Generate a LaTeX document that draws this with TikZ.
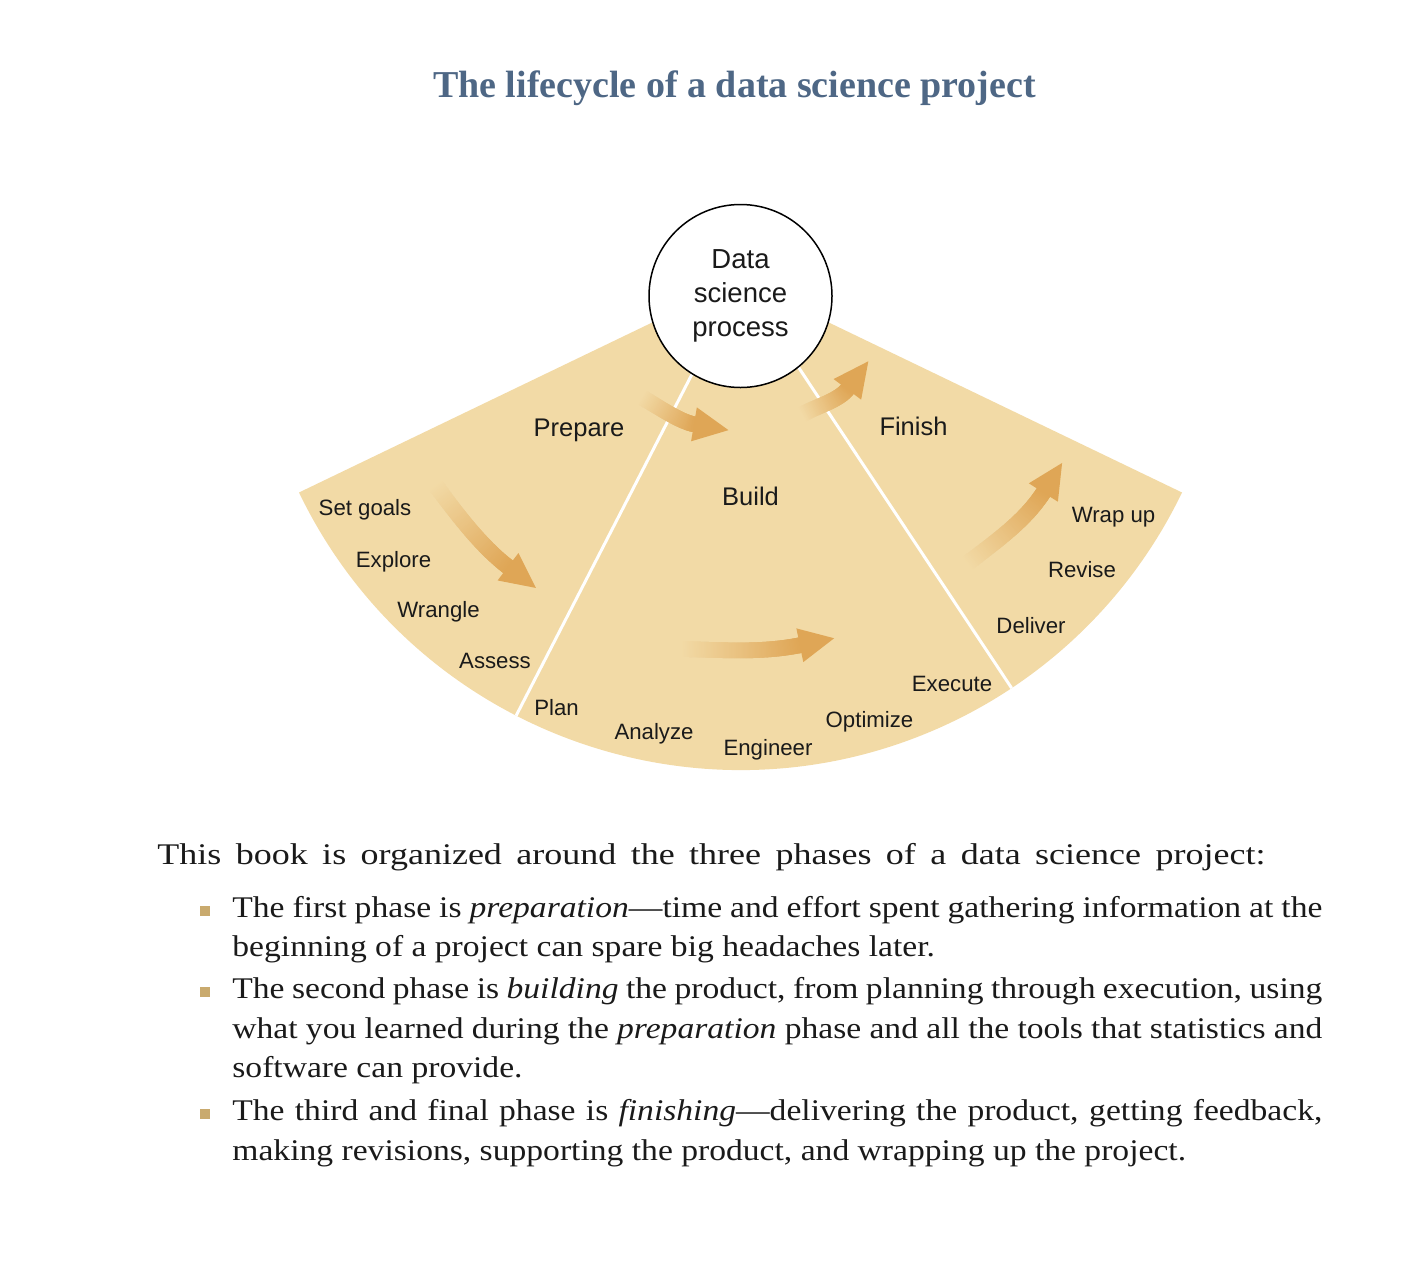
\documentclass[tikz,border=0pt]{standalone}
\usepackage{fontspec}
\setmainfont{Liberation Serif}
\setsansfont{Liberation Sans}
\newfontfamily\bookfont{Liberation Serif}[FakeStretch=1.12]
\newfontfamily\leadfont{Liberation Serif}[FakeStretch=1.2]
\usetikzlibrary{decorations.markings}

\definecolor{fantan}{RGB}{242,218,166}
\definecolor{arrowtan}{RGB}{223,166,86}
\definecolor{titleblue}{RGB}{78,103,133}
\definecolor{bulletgold}{RGB}{201,170,110}
\definecolor{inkgrey}{RGB}{26,26,26}

\tikzset{
  phase/.style={font=\sffamily\fontsize{12.75pt}{15pt}\selectfont, text=inkgrey, anchor=base, inner sep=0pt},
  stage/.style={font=\sffamily\fontsize{11.1pt}{13pt}\selectfont, text=inkgrey, anchor=base, inner sep=0pt},
  divider/.style={draw=white, line width=1.5pt},
  flowarrow/.style={postaction={decorate}, decoration={markings,
      mark=between positions 0 and 1 step 0.6pt with {
        \pgfmathtruncatemacro\shadepc{min(100,100*\pgfkeysvalueof{/pgf/decoration/mark info/distance from start}/\pgfdecoratedpathlength)}
        \fill[arrowtan!\shadepc!fantan] (-0.8pt,-3.9pt) rectangle (0.8pt,3.9pt);},
      mark=at position 1 with {\fill[arrowtan] (-0.5pt,-8.6pt) -- (17pt,0pt) -- (-0.5pt,8.6pt) -- cycle;}}},
  bodyline/.style={font=\bookfont\fontsize{15pt}{19.75pt}\selectfont, text=inkgrey, anchor=base west, inner sep=0pt},
  bulletbox/.style={fill=bulletgold, minimum size=5pt, inner sep=0pt},
}

\begin{document}
\begin{tikzpicture}[x=0.5pt,y=-0.5pt]
\useasboundingbox (0,0) rectangle (1406,1274);

%Title
\node[font=\bfseries\fontsize{19pt}{23pt}\selectfont, text=titleblue, anchor=base] (title) at (734.5,97) {The lifecycle of a data science project};

%Shape: Sector
\fill[fantan] (740.5,280) -- ++(154.3:490) arc[start angle=154.3, end angle=25.7, radius=490] -- cycle;
%Straight Lines
\draw[divider] (740.5,280) -- ++(117.25:490);
\draw[divider] (740.5,280) -- ++(56.4:490);

%Shape: Circle
\node[circle, draw=black, line width=0.75pt, fill=white, minimum size=91.5pt, inner sep=0pt, align=center,
  font=\sffamily\fontsize{13.75pt}{17pt}\selectfont, text=inkgrey] (core) at (740.5,296) {Data\\science\\process};

%Curved Arrows
\path[flowarrow] (643,398) .. controls (657,406) and (680,422) .. (695,424.5);
\path[flowarrow] (803,414) .. controls (816,406.5) and (839,400.6) .. (848,388.5);
\path[flowarrow] (436,486) .. controls (457,514) and (481,546.3) .. (509,567.5);
\path[flowarrow] (683,649) .. controls (723,650) and (762,653) .. (801,645);
\path[flowarrow] (968,563) .. controls (995.6,541.4) and (1025.3,521.1) .. (1044,491.5);

%Phase labels
\node[phase] (prepare) at (579,436) {Prepare};
\node[phase] (build) at (750.5,505) {Build};
\node[phase] (finish) at (913.5,435) {Finish};

%Stage labels
\node[stage] (setgoals) at (365,515) {Set goals};
\node[stage] (explore) at (393.5,567) {Explore};
\node[stage] (wrangle) at (438.5,617) {Wrangle};
\node[stage] (assess) at (495,668) {Assess};
\node[stage] (plan) at (556.5,715) {Plan};
\node[stage] (analyze) at (654,739) {Analyze};
\node[stage] (engineer) at (768,755) {Engineer};
\node[stage] (optimize) at (869.5,727) {Optimize};
\node[stage] (execute) at (952,691) {Execute};
\node[stage] (deliver) at (1031,633) {Deliver};
\node[stage] (revise) at (1082,577) {Revise};
\node[stage] (wrapup) at (1113.5,522) {Wrap up};

%Body text
\node[bodyline, font=\leadfont\fontsize{15pt}{19.75pt}\selectfont] (intro) at (157,864) {\makebox[554pt][s]{This book is organized around the three phases of a data science project:}};
\node[bulletbox] (mark1) at (205,911) {};
\node[bodyline] (prep1) at (232,917) {\makebox[545pt][s]{The first phase is \textit{preparation}—time and effort spent gathering information at the}};
\node[bodyline] (prep2) at (232,956) {beginning of a project can spare big headaches later.};
\node[bulletbox] (mark2) at (205,992) {};
\node[bodyline] (build1) at (232,998) {\makebox[545pt][s]{The second phase is \textit{building} the product, from planning through execution, using}};
\node[bodyline] (build2) at (232,1038) {\makebox[545pt][s]{what you learned during the \textit{preparation} phase and all the tools that statistics and}};
\node[bodyline] (build3) at (232,1077) {software can provide.};
\node[bulletbox] (mark3) at (205,1114) {};
\node[bodyline] (finish1) at (232,1120) {\makebox[545pt][s]{The third and final phase is \textit{finishing}—delivering the product, getting feedback,}};
\node[bodyline] (finish2) at (232,1160) {making revisions, supporting the product, and wrapping up the project.};

\end{tikzpicture}
\end{document}
